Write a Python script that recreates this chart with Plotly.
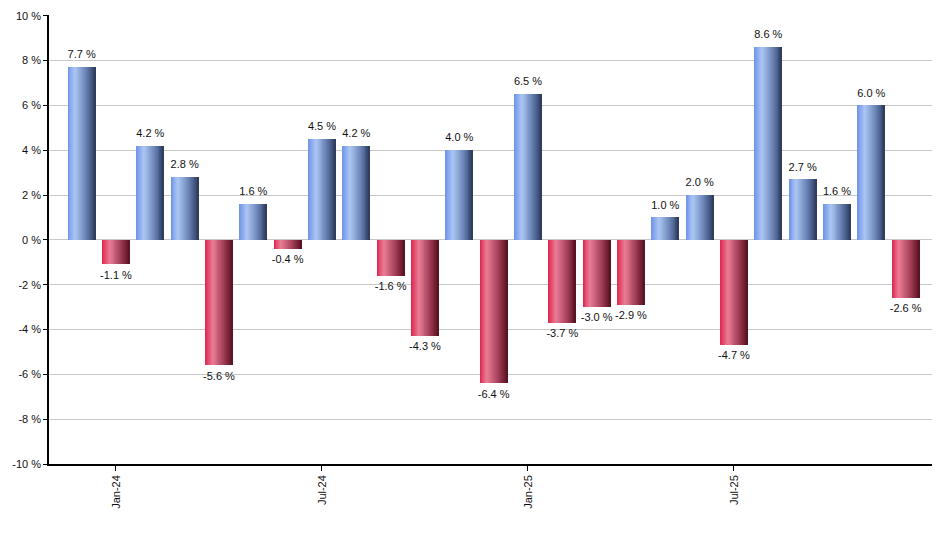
import plotly.graph_objects as go

months = ["Dec-23", "Jan-24", "Feb-24", "Mar-24", "Apr-24", "May-24", "Jun-24", "Jul-24",
          "Aug-24", "Sep-24", "Oct-24", "Nov-24", "Dec-24", "Jan-25", "Feb-25", "Mar-25",
          "Apr-25", "May-25", "Jun-25", "Jul-25", "Aug-25", "Sep-25", "Oct-25", "Nov-25", "Dec-25"]
values = [7.7, -1.1, 4.2, 2.8, -5.6, 1.6, -0.4, 4.5, 4.2, -1.6, -4.3, 4.0, -6.4, 6.5,
          -3.7, -3.0, -2.9, 1.0, 2.0, -4.7, 8.6, 2.7, 1.6, 6.0, -2.6]
tick_labels = ["Jan-24", "Jul-24", "Jan-25", "Jul-25"]
y_ticks = [-10, -8, -6, -4, -2, 0, 2, 4, 6, 8, 10]

idx = list(range(len(months)))
tick_idx = [months.index(t) for t in tick_labels]

# gradient stops (position, rgb)
blue_stops = [(0.0, (108, 146, 232)), (0.28, (172, 198, 244)), (0.65, (110, 135, 185)),
              (0.94, (55, 74, 116)), (1.0, (45, 55, 80))]
red_stops = [(0.0, (222, 38, 78)), (0.28, (234, 124, 150)), (0.65, (170, 70, 95)),
             (0.94, (108, 24, 44)), (1.0, (80, 20, 32))]


def interp(stops, t):
    for (p0, c0), (p1, c1) in zip(stops[:-1], stops[1:]):
        if p0 <= t <= p1:
            f = (t - p0) / (p1 - p0)
            c = [round(a + (b - a) * f) for a, b in zip(c0, c1)]
            return "rgb(%d,%d,%d)" % tuple(c)
    return "rgb(%d,%d,%d)" % stops[-1][1]


N = 28
bar_w = 0.79
sw = bar_w / N
fig = go.Figure()
for i in range(N):
    t = (i + 0.5) / N
    cols = [interp(blue_stops, t) if v >= 0 else interp(red_stops, t) for v in values]
    fig.add_trace(go.Bar(
        x=idx, y=values, width=sw * 1.6 if i < N - 1 else sw, offset=-bar_w / 2 + i * sw,
        marker=dict(color=cols, line=dict(width=0)),
        hoverinfo="skip", showlegend=False,
    ))

pos_x = [i for i, v in zip(idx, values) if v >= 0]
pos_y = [v for v in values if v >= 0]
neg_x = [i for i, v in zip(idx, values) if v < 0]
neg_y = [v for v in values if v < 0]
for xs, ys, pos in ((pos_x, pos_y, "top center"), (neg_x, neg_y, "bottom center")):
    fig.add_trace(go.Scatter(x=xs, y=ys, mode="markers+text", texttemplate="%{y:.1f} %",
                             marker=dict(size=8, opacity=0),
                             textposition=pos, textfont=dict(family="Arial", size=11, color="#111"),
                             hoverinfo="skip", showlegend=False, cliponaxis=False))

fig.update_layout(
    width=932, height=542, barmode="overlay", bargap=0,
    paper_bgcolor="white", plot_bgcolor="white",
    margin=dict(l=41, r=0, t=7, b=86),
    font=dict(family="Arial", size=11, color="#111"),
)
fig.update_xaxes(range=[-0.95, 25.0], tickmode="array", tickvals=tick_idx, ticktext=tick_labels,
                 tickangle=-90, ticks="outside", ticklen=5, tickcolor="black", automargin=False,
                 showline=True, linecolor="black", linewidth=1.5, showgrid=False, zeroline=False)
fig.update_yaxes(range=[-10, 10.03], tickmode="array", tickvals=y_ticks,
                 ticktext=["%d %%" % v for v in y_ticks], automargin=False,
                 ticklabeloverflow="allow",
                 ticks="outside", ticklen=4, tickcolor="black",
                 showline=True, linecolor="black", linewidth=1.5,
                 showgrid=True, gridcolor="#c8c8c8", gridwidth=1, zeroline=False)

fig.write_html("out.html")
